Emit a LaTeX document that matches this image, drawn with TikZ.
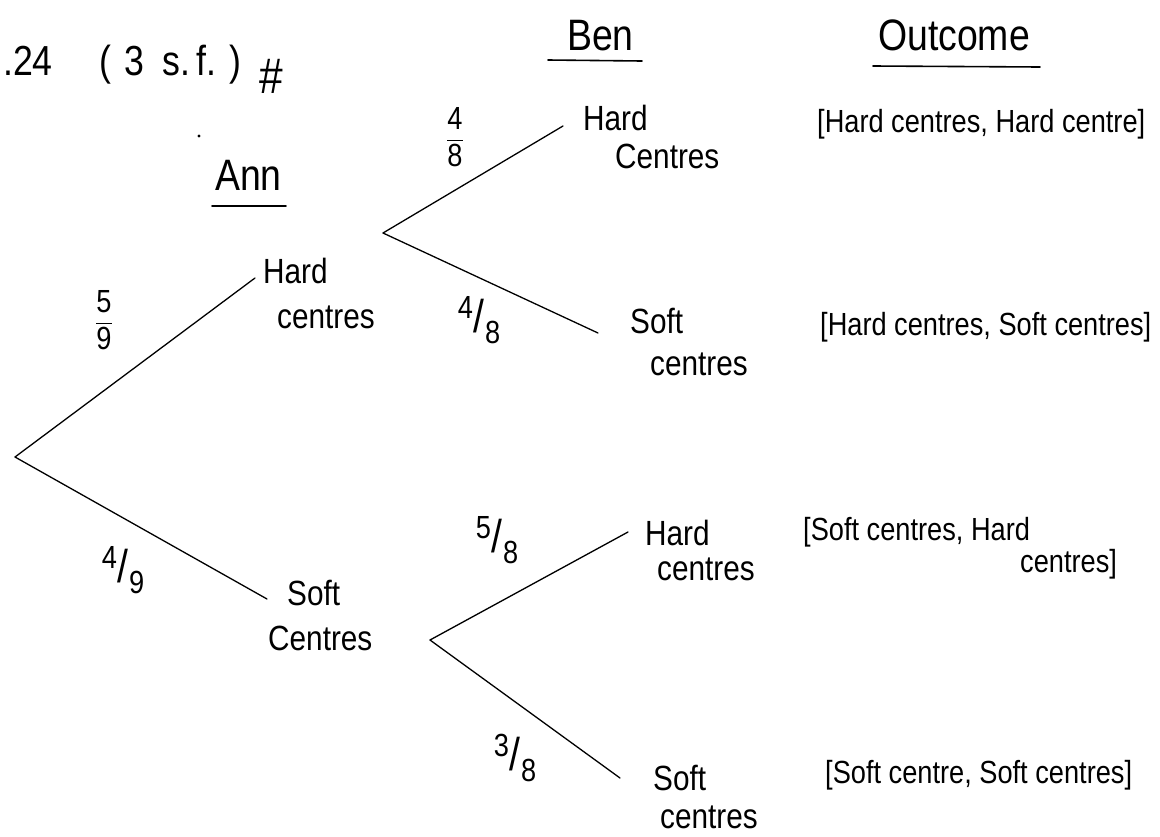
\documentclass[tikz,border=0pt]{standalone}
\usepackage{amsmath}
\usepackage{fontspec}
\setmainfont{Liberation Sans}[FakeStretch=0.85]
% stacked and slanted fractions for the branch probabilities
\newcommand{\upfrac}[2]{$\dfrac{\text{#1}}{\text{#2}}$}
\newcommand{\slfrac}[2]{\raisebox{0.45em}{#1}\kern0.02em{\fontsize{46}{46}\selectfont/}\kern0.02em\raisebox{-0.34em}{#2}}
\begin{document}
\begin{tikzpicture}[x=1pt,y=-1pt,
  lbl/.style={font=\fontsize{35}{40}\selectfont, inner sep=0pt, anchor=base west},
  outc/.style={font=\fontsize{32}{36}\selectfont, inner sep=0pt, anchor=base west},
  head/.style={font=\fontsize{44}{48}\selectfont, inner sep=0pt, anchor=base west},
  prob/.style={font=\fontsize{32}{36}\selectfont, inner sep=0pt},
  branch/.style={line width=1.3pt, line cap=round},
  uline/.style={line width=1.6pt, line cap=round}]
\useasboundingbox (0,0) rectangle (1160,836);

% answer line
\node[font=\fontsize{42}{46}\selectfont, inner sep=0pt, anchor=base west] (ans) at (3,75)
  {.24\hspace{47pt}(\hspace{13pt}3\hspace{18pt}s.\hspace{6pt}f.\hspace{13pt})};
\node[font=\fontsize{50}{54}\selectfont, inner sep=0pt] (hash) at (271,76) {\#};
\fill (199,136) circle (1.6pt);

% column headings
\node[head] (ann) at (215,190) {Ann};
\draw[uline] (212,206) -- (286,206);
\node[head] (ben) at (567,50) {Ben};
\draw[uline] (548,60) -- (642,61);
\node[head] (outh) at (878,50) {Outcome};
\draw[uline] (873,66) -- (1040,67);

% branch points
\coordinate (root) at (15,457);
\coordinate (hA) at (255,278);
\coordinate (sA) at (267,599);
\coordinate (hB) at (383,233);
\coordinate (sB) at (430,640);
\coordinate (hh) at (563,126);
\coordinate (hs) at (598,333);
\coordinate (sh) at (628,532);
\coordinate (ss) at (620,778);

% first draw (Ann)
\draw[branch] (root) -- (hA);
\draw[branch] (root) -- (sA);
\node[lbl] (annH1) at (263,283) {Hard};
\node[lbl] (annH2) at (277,328) {centres};
\node[lbl] (annS1) at (287,605) {Soft};
\node[lbl] (annS2) at (268,650) {Centres};
\node[prob] (p59) at (104,320) {\upfrac{5}{9}};
\node[prob] (p49) at (123,570) {\slfrac{4}{9}};

% second draw (Ben) after a hard centre
\draw[branch] (hB) -- (hh);
\draw[branch] (hB) -- (hs);
\node[lbl] (hhT1) at (583,130) {Hard};
\node[lbl] (hhT2) at (615,168) {Centres};
\node[lbl] (hsT1) at (630,333) {Soft};
\node[lbl] (hsT2) at (650,375) {centres};
\node[prob] (p48a) at (455,137) {\upfrac{4}{8}};
\node[prob] (p48b) at (479,320) {\slfrac{4}{8}};

% second draw (Ben) after a soft centre
\draw[branch] (sB) -- (sh);
\draw[branch] (sB) -- (ss);
\node[lbl] (shT1) at (645,545) {Hard};
\node[lbl] (shT2) at (657,580) {centres};
\node[lbl] (ssT1) at (653,790) {Soft};
\node[lbl] (ssT2) at (660,828) {centres};
\node[prob] (p58) at (497,540) {\slfrac{5}{8}};
\node[prob] (p38) at (515,758) {\slfrac{3}{8}};

% outcomes
\node[outc] (o1) at (817,132) {[Hard centres, Hard centre]};
\node[outc] (o2) at (820,335) {[Hard centres, Soft centres]};
\node[outc] (o3a) at (803,540) {[Soft centres, Hard};
\node[outc] (o3b) at (1020,572) {centres]};
\node[outc] (o4) at (825,783) {[Soft centre, Soft centres]};
\end{tikzpicture}
\end{document}
